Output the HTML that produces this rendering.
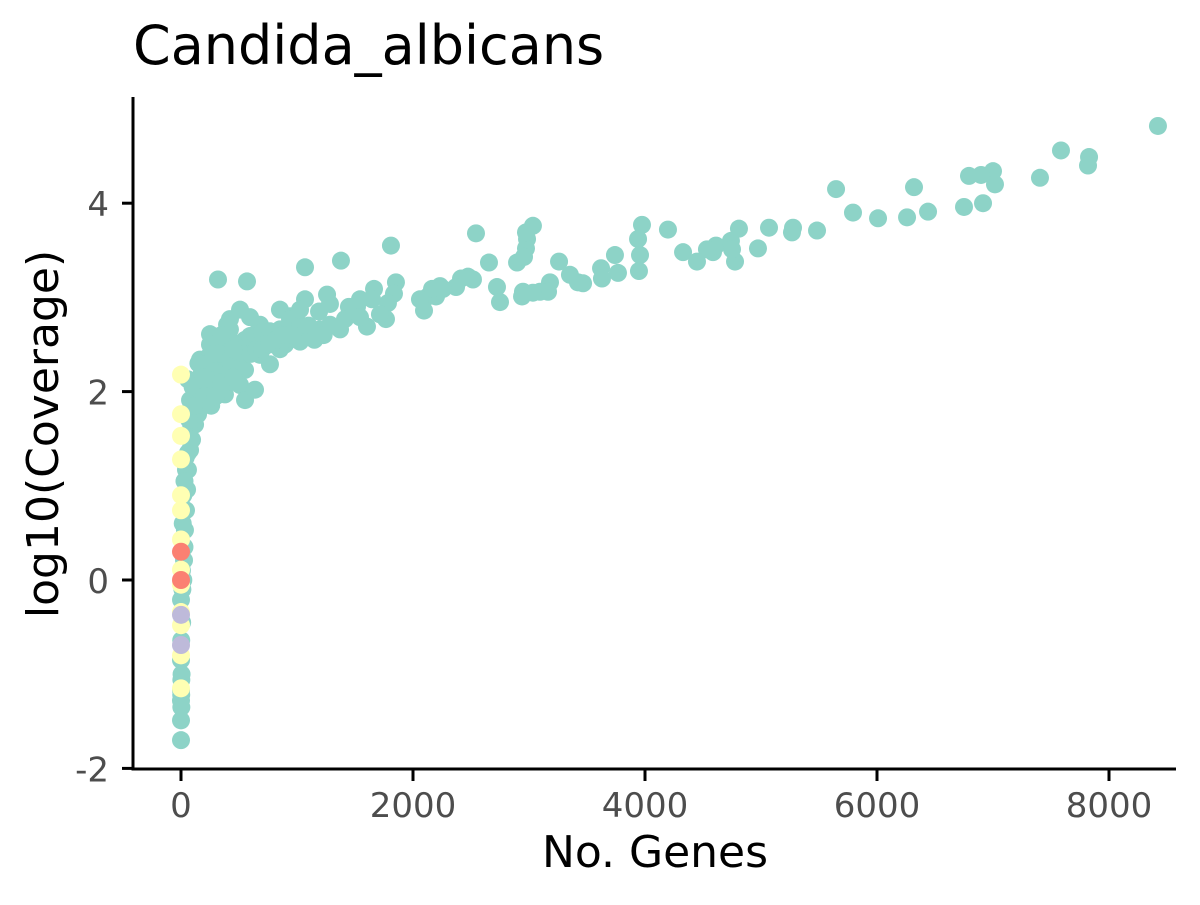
<!DOCTYPE html>
<html><head><meta charset="utf-8"><style>
html,body{margin:0;padding:0;background:#fff;}
svg text{font-family:"DejaVu Sans","Liberation Sans",sans-serif;}
</style></head><body>
<svg id="chart" width="1200" height="900" viewBox="0 0 1200 900" xmlns="http://www.w3.org/2000/svg">
<rect width="1200" height="900" fill="#fff"/>
<text x="133" y="64" font-size="54" fill="#000">Candida_albicans</text>
<g id="marks"></g>
<g id="axes"></g>
<text x="655" y="867" font-size="44" text-anchor="middle" fill="#000">No. Genes</text>
<text transform="translate(58,434) rotate(-90)" font-size="44" text-anchor="middle" fill="#000">log10(Coverage)</text>
</svg>
<script>
const xTicks = [0, 2000, 4000, 6000, 8000];
const yTicks = [-2, 0, 2, 4];
const tealPoints = [
[8422,4.82],[7586,4.56],[7828,4.49],[7819,4.40],[7405,4.27],[6793,4.29],[7000,4.34],[6897,4.30],[7017,4.20],[6914,4.00],[6750,3.96],[6319,4.17],[6440,3.91],[6259,3.85],[6009,3.84],[5647,4.15],[5793,3.90],[5483,3.71],[5276,3.74],[5069,3.74],[4974,3.52],[5267,3.69],[4810,3.73],[4586,3.48],[4612,3.55],[4534,3.51],[4448,3.38],[4328,3.48],[4741,3.60],[4776,3.38],[4750,3.51],[4198,3.72],[3974,3.77],[3940,3.62],[3957,3.45],[3948,3.28],[3741,3.45],[3767,3.26],[3621,3.31],[3629,3.20],[3422,3.16],[3466,3.15],[3353,3.24],[3181,3.16],[3259,3.38],[3164,3.06],[3095,3.06],[3034,3.05],[2948,3.06],[2897,3.37],[2974,3.52],[2983,3.62],[3034,3.76],[2974,3.69],[2957,3.43],[2940,3.01],[2655,3.37],[2724,3.11],[2750,2.95],[2543,3.68],[2517,3.19],[2474,3.22],[2414,3.20],[2371,3.11],[2259,3.09],[2198,3.01],[2129,3.01],[2233,3.12],[2095,2.86],[2164,3.09],[1810,3.55],[1853,3.16],[1836,3.04],[1784,2.94],[1767,2.77],[1664,3.09],[1647,2.98],[1603,2.69],[1517,2.90],[1448,2.90],[1379,3.39],[1259,3.03],[1190,2.85],[1069,3.32],[569,3.17],[319,3.19],[1069,2.98],[940,2.80],[853,2.87],[681,2.71],[1371,2.66],[422,2.77],[2060,2.98],
[0,-1.70],[0,-1.49],[0,-1.28],[2,-1.22],[0,-1.17],[3,-1.06],[0,-0.85],[2,-0.64],[0,-0.21],[26,0.21],[34,0.53],[43,0.74],[52,0.96],[60,1.17],[78,1.38],[95,1.49],[121,1.65],[147,1.76],[164,1.86],[190,1.97],[216,2.02],[250,2.13],[293,2.18],[319,2.29],[353,2.34],[405,2.39],[440,2.45],[491,2.50],[552,2.55],[595,2.59],[638,2.61],[698,2.63],[767,2.64],[853,2.66],[940,2.68],[164,2.34],[250,2.39],[336,2.50],[422,2.55],[319,2.07],[379,1.97],[509,2.07],[552,2.23],[681,2.39],[724,2.50],[810,2.55],[897,2.50],[1026,2.53],[1112,2.61],[1198,2.66],[1284,2.71],[1414,2.77],[1543,2.79],[1715,2.82],[940,2.77],[1026,2.71],[595,2.79],[422,2.66],[121,2.07],[60,2.13],[509,2.87],[397,2.71],[250,2.61],[1026,2.87],[1284,2.93],[1543,2.98],[552,1.91],[638,2.02],[767,2.29],[853,2.45],[78,1.91],[103,1.70],[43,1.17],[20,0.0],[10,-0.45],
[15,0.6],[20,0.9],[30,1.05],[40,1.3],[55,1.55],[70,1.7],[90,1.85],[110,1.95],[130,2.0],[150,2.1],[180,2.2],[200,2.25],[230,2.3],[260,2.2],[290,2.3],[330,2.4],[360,2.2],[400,2.1],[430,2.3],[470,2.35],[500,2.25],[540,2.4],[600,2.4],[650,2.45],[700,2.45],[760,2.5],[820,2.55],[880,2.6],[960,2.6],[1100,2.7],[1150,2.55],[1230,2.6],[120,1.85],[100,2.05],[200,1.95],[260,1.85],[300,1.95],[350,2.1],[450,2.15],[150,2.3],[250,2.5],[350,2.6],[450,2.45],[280,2.4],[190,2.15],[70,1.5],[60,1.35],[30,0.35],[12,-0.1],[8,0.1],[5,-1.0],[3,-1.35]
];
const yellowPoints = [[0,2.18],[0,1.76],[0,1.53],[0,0.74],[0,0.43],[0,0.11],[0,-0.05],[0,-0.34],[0,-0.80],[0,-1.15],[0,0.90],[0,1.28],[0,-0.48]];
const lavenderPoints = [[0,-0.37],[0,-0.69]];
const salmonPoints = [[0,0.30],[0,0.0]];

const NS = "http://www.w3.org/2000/svg";
const xScale = v => 181 + v * 0.116;
const yScale = v => 580 - v * 94.2;
const marks = document.getElementById('marks');
const axes = document.getElementById('axes');
function drawSeries(arr, color, name){
  arr.forEach(p=>{
    const c=document.createElementNS(NS,'circle');
    c.setAttribute('cx',xScale(p[0]));c.setAttribute('cy',yScale(p[1]));
    c.setAttribute('r',9);c.setAttribute('fill',color);
    
    
    marks.appendChild(c);
  });
}
drawSeries(tealPoints,'#8DD3C7','point-teal');
drawSeries(yellowPoints,'#FFFFB3','point-yellow');
drawSeries(lavenderPoints,'#BEBADA','point-lavender');
drawSeries(salmonPoints,'#FB8072','point-salmon');

function line(x1,y1,x2,y2,name){
  const l=document.createElementNS(NS,'line');
  l.setAttribute('x1',x1);l.setAttribute('y1',y1);l.setAttribute('x2',x2);l.setAttribute('y2',y2);
  l.setAttribute('stroke','#000');l.setAttribute('stroke-width',3);
  
  
  axes.appendChild(l);
}
function text(x,y,s,anchor,name){
  const t=document.createElementNS(NS,'text');
  t.setAttribute('x',x);t.setAttribute('y',y);t.setAttribute('text-anchor',anchor);
  t.setAttribute('font-size',34);t.setAttribute('fill','#4d4d4d');
  t.textContent=s;
  
  
  axes.appendChild(t);
}
line(133,97,133,770.5,'y-axis-line');
line(131.5,769,1176,769,'x-axis-line');
xTicks.forEach(v=>{line(xScale(v),769,xScale(v),781,'x-tick');text(xScale(v),817,String(v),'middle','x-tick-label');});
yTicks.forEach(v=>{line(122,yScale(v),133,yScale(v),'y-tick');text(109,yScale(v)+13,String(v),'end','y-tick-label');});
</script>
</body></html>
